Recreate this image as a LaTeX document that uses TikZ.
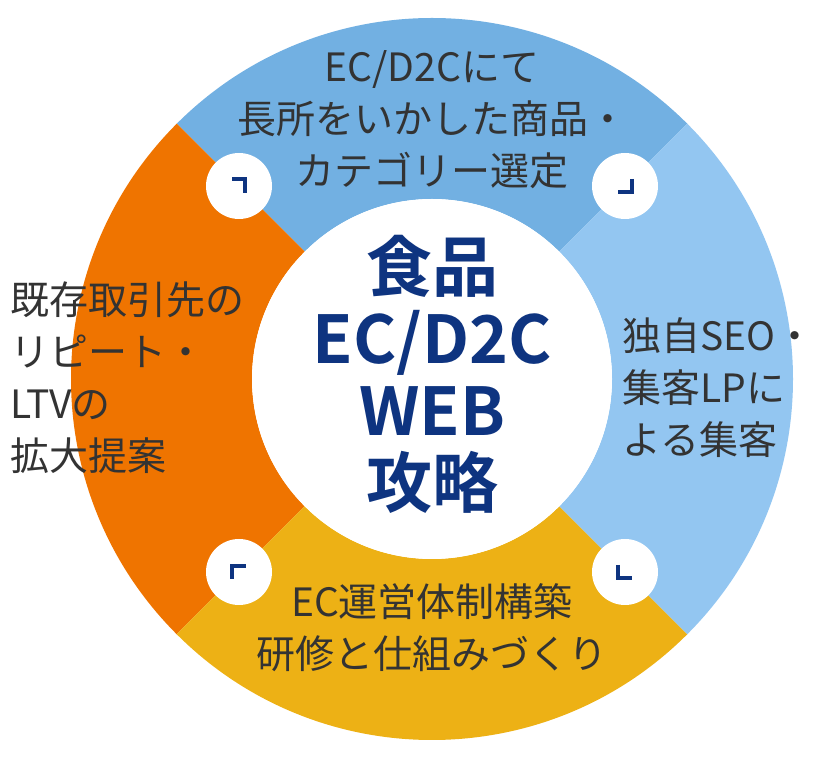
\documentclass[tikz,border=0pt]{standalone}
\usepackage{fontspec}
\setmainfont{Noto Sans CJK JP}
\newfontfamily\boldcjk{Noto Sans CJK JP Bold}
\definecolor{ctop}{HTML}{72B0E2}
\definecolor{cright}{HTML}{93C6F1}
\definecolor{cbottom}{HTML}{EDB115}
\definecolor{cleft}{HTML}{EF7400}
\definecolor{navy}{HTML}{0E3480}
\definecolor{txt}{HTML}{333333}
\begin{document}
\begin{tikzpicture}[x=1pt,y=1pt,
  lbl/.style={text=txt,font=\fontsize{39}{52}\selectfont,align=left,inner sep=0},
  dot/.style={circle,fill=white,minimum size=66pt,inner sep=0},
  mk/.style={navy,line width=3.5pt}]
\useasboundingbox (0,0) rectangle (822,760);
\coordinate (c) at (432,381);
\def\R{361}\def\r{180}
\fill[ctop] (c) ++(45:\R) arc (45:135:\R) -- ++(135:-181) arc (135:45:\r) -- cycle;
\fill[cleft] (c) ++(135:\R) arc (135:225:\R) -- ++(225:-181) arc (225:135:\r) -- cycle;
\fill[cbottom] (c) ++(225:\R) arc (225:315:\R) -- ++(315:-181) arc (315:225:\r) -- cycle;
\fill[cright] (c) ++(-45:\R) arc (-45:45:\R) -- ++(45:-181) arc (45:-45:\r) -- cycle;
\node[circle,fill=white,minimum size=360pt,inner sep=0] (center) at (c) {};
\node[text=navy,font=\boldcjk\fontsize{66}{72}\selectfont,align=center] (title) at (432,386) {食品\\EC/D2C\\WEB\\攻略};
\node[dot] (d1) at (239,574) {};
\node[dot] (d2) at (625,574) {};
\node[dot] (d3) at (625,188) {};
\node[dot] (d4) at (239,188) {};
\draw[mk] ([shift={(-7,7)}]d1.center) -- ++(13,0) -- ++(0,-14);
\draw[mk] ([shift={(7,7)}]d2.center) -- ++(0,-13) -- ++(-14,0);
\draw[mk] ([shift={(-7,7)}]d3.center) -- ++(0,-13) -- ++(14,0);
\draw[mk] ([shift={(-7,-7)}]d4.center) -- ++(0,13) -- ++(14,0);
\node[lbl,align=center] (t1) at (432,640) {EC/D2Cにて\\長所をいかした商品・\\カテゴリー選定};
\node[lbl,anchor=west] (t2) at (10,382) {既存取引先の\\リピート・\\LTVの\\拡大提案};
\node[lbl,anchor=west] (t3) at (622,372) {独自SEO・\\集客LPに\\よる集客};
\node[lbl,align=center] (t4) at (432,132) {EC運営体制構築\\研修と仕組みづくり};
\end{tikzpicture}
\end{document}
